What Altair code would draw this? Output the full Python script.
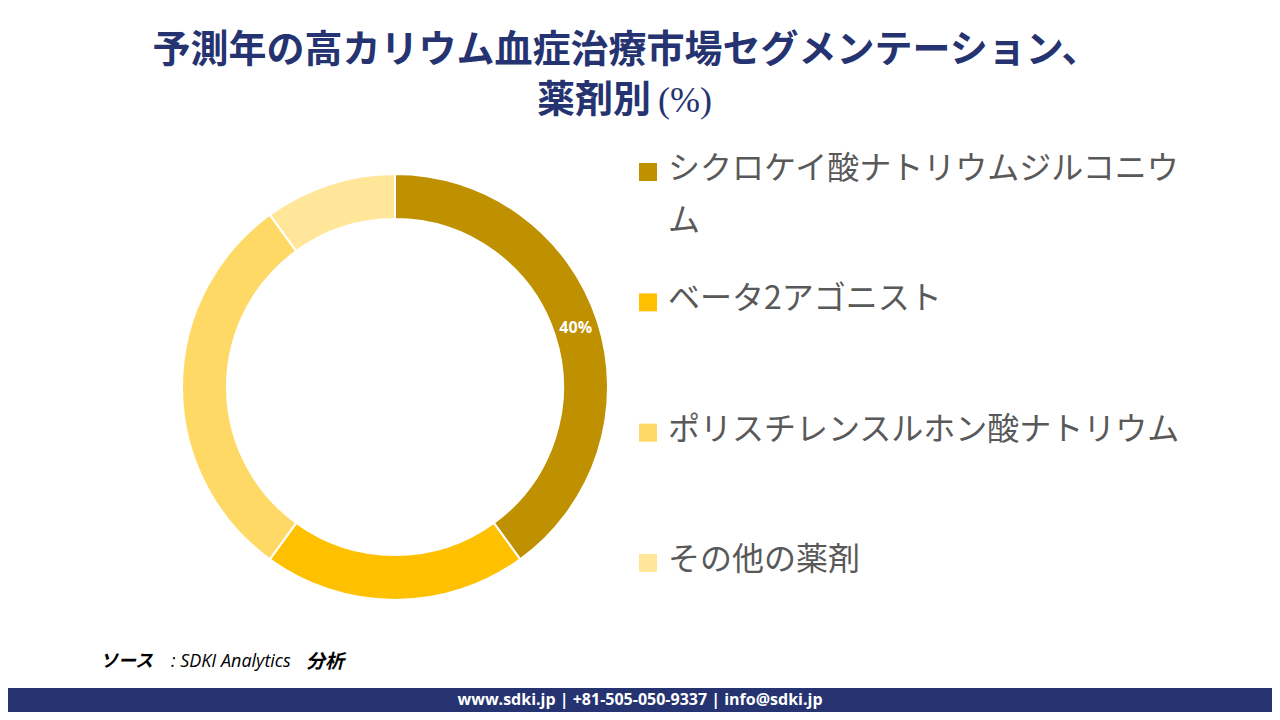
import altair as alt
import pandas as pd

categories = [
    "シクロケイ酸ナトリウムジルコニウム",
    "ベータ2アゴニスト",
    "ポリスチレンスルホン酸ナトリウム",
    "その他の薬剤",
]
shares = [40, 20, 30, 10]
show_label = [True, False, False, False]
colors = ["#BF9000", "#FFC000", "#FFD966", "#FFE699"]

title_line1 = "予測年の高カリウム血症治療市場セグメンテーション、"
title_line2a = "薬剤別"
title_line2b = "(%)"
source_parts = ["ソース", ": SDKI Analytics", "分析"]
footer_text = "www.sdki.jp | +81-505-050-9337 | info@sdki.jp"

NAVY = "#253370"


def wrap(s, n=16):
    return "\n".join(s[i:i + n] for i in range(0, len(s), n))


df = pd.DataFrame({
    "category": categories,
    "share": shares,
    "idx": list(range(len(categories))),
    "label": [f"{v}%" if s else "" for v, s in zip(shares, show_label)],
    "display": [wrap(c) for c in categories],
})

color_scale = alt.Scale(domain=categories, range=colors)
CX, CY = 387, 379

base = alt.Chart(df)

arcs = base.mark_arc(outerRadius=213, innerRadius=168, stroke="white", strokeWidth=2).encode(
    theta=alt.Theta("share:Q", stack=True),
    color=alt.Color("category:N", scale=color_scale, legend=None),
    order=alt.Order("idx:Q"),
    x=alt.value(CX),
    y=alt.value(CY),
)

pct = base.mark_text(radius=190, fontSize=16, fontWeight="bold", font="Open Sans", color="white").encode(
    theta=alt.Theta("share:Q", stack=True),
    order=alt.Order("idx:Q"),
    text="label:N",
    x=alt.value(CX),
    y=alt.value(CY),
)

yscale = alt.Scale(domain=categories, range=[164, 555], padding=0)

leg_sq = base.mark_square(size=324, opacity=1).encode(
    x=alt.value(640),
    y=alt.Y("category:N", scale=yscale, axis=None),
    color=alt.Color("category:N", scale=color_scale, legend=None),
)

leg_txt = base.mark_text(
    align="left", baseline="top", dy=-18, fontSize=32, lineHeight=52,
    lineBreak="\n", font="Noto Sans CJK JP", color="#595959",
).encode(
    x=alt.value(660),
    y=alt.Y("category:N", scale=yscale, axis=None),
    text="display:N",
)


def label(text, x, y, **kw):
    return alt.Chart(pd.DataFrame({"t": [text]})).mark_text(**kw).encode(
        text="t:N", x=alt.value(x), y=alt.value(y)
    )


t1 = label(title_line1, 618, 43, fontSize=38, fontWeight="bold", font="Noto Sans CJK JP",
           color=NAVY, align="center", baseline="middle")
t2a = label(title_line2a, 643, 93, fontSize=38, fontWeight="bold", font="Noto Sans CJK JP",
            color=NAVY, align="right", baseline="middle")
t2b = label(title_line2b, 650, 93, fontSize=36, font="Liberation Serif",
            color=NAVY, align="left", baseline="middle")

s1 = label(source_parts[0], 92, 654, fontSize=18, fontWeight="bold", fontStyle="italic",
           font="Noto Sans CJK JP", color="black", align="left", baseline="middle")
s2 = label(source_parts[1], 163, 654, fontSize=18, fontStyle="italic",
           font="Open Sans", color="black", align="left", baseline="middle")
s3 = label(source_parts[2], 298, 654, fontSize=19, fontWeight="bold", fontStyle="italic",
           font="Noto Sans CJK JP", color="black", align="left", baseline="middle")

band = alt.Chart(pd.DataFrame({"a": [0]})).mark_rect(color=NAVY).encode(
    x=alt.value(-10), x2=alt.value(1274), y=alt.value(680), y2=alt.value(710)
)
foot = label(footer_text, 632, 692, fontSize=16, fontWeight="bold", font="Open Sans",
             color="white", align="center", baseline="middle")

chart = alt.layer(
    arcs, pct, leg_sq, leg_txt, t1, t2a, t2b, s1, s2, s3, band, foot
).properties(
    width=1264, height=704, padding=0,
    autosize=alt.AutoSizeParams(type="none"),
).configure_view(strokeWidth=0)

chart.save("out.html", embed_options={"renderer": "svg", "actions": False})
